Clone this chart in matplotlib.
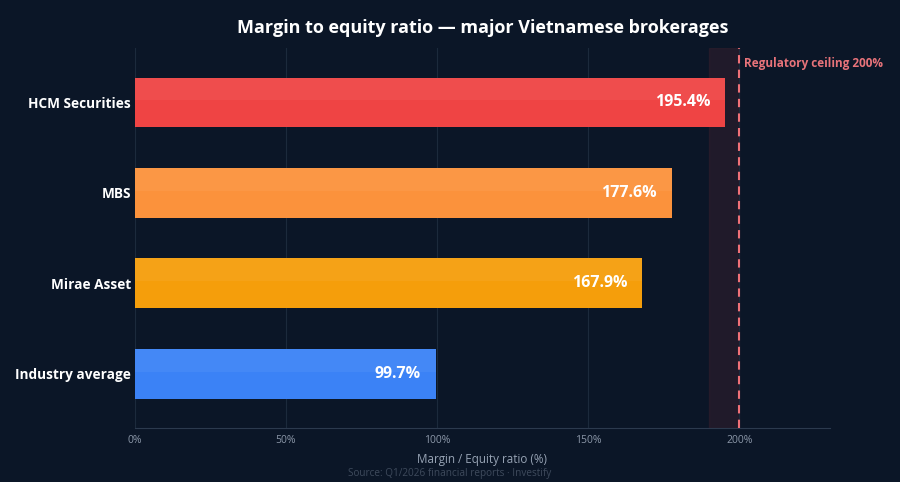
import matplotlib
matplotlib.use("Agg")
import matplotlib.pyplot as plt
import numpy as np

plt.rcParams['font.family'] = ['Open Sans', 'DejaVu Sans']

# data
brokers = ["HCM Securities", "MBS", "Mirae Asset", "Industry average"]
ratios = [195.4, 177.6, 167.9, 99.7]
bar_colors = ["#ef4444", "#fb923c", "#f59e0b", "#3b82f6"]
ceiling = 200
band_start = 190
xticks = [0, 50, 100, 150, 200]

bg = "#0b1627"

fig = plt.figure(figsize=(9, 4.82), dpi=100, facecolor=bg)
ax = fig.add_axes([0.15, 0.112, 0.772, 0.788])
ax.set_facecolor(bg)

ypos = np.arange(len(brokers))[::-1]
h = 0.55

ax.axvspan(band_start, ceiling, color="#3a1f2e", alpha=0.45, zorder=0)

bars = ax.barh(ypos, ratios, height=h, color=bar_colors, zorder=2)
# lighter upper part on each bar
ax.barh(ypos + h * 0.27, ratios, height=h * 0.46, color="white", alpha=0.05, zorder=3)

for y, v in zip(ypos, ratios):
    ax.text(v - 5, y, f"{v:.1f}%", ha="right", va="center", color="white",
            fontsize=11.5, fontweight="bold", zorder=4)

ax.axvline(ceiling, color="#f07178", linestyle=(0, (4, 3)), linewidth=1.5, zorder=4)
ax.text(ceiling + 1.5, 3.43, "Regulatory ceiling 200%", color="#e8737a",
        fontsize=8.5, fontweight="bold", ha="left", va="center")

ax.set_xlim(0, 230)
ax.set_ylim(-0.6, 3.6)
ax.set_xticks(xticks)
ax.set_xticklabels([f"{t}%" for t in xticks])
ax.set_yticks(ypos)
ax.set_yticklabels(brokers)

ax.grid(axis="x", color="#1c2a3c", linewidth=0.8, zorder=0)
ax.set_axisbelow(True)
for s in ["top", "right", "left"]:
    ax.spines[s].set_visible(False)
ax.spines["bottom"].set_color("#2c3a4e")

ax.tick_params(axis="x", colors="#8b97a8", labelsize=7.5, length=0, pad=5)
ax.tick_params(axis="y", colors="white", labelsize=9.8, length=0, pad=3)
for lbl in ax.get_yticklabels():
    lbl.set_fontweight("bold")

ax.set_xlabel("Margin / Equity ratio (%)", color="#97a3b4", fontsize=8.4, labelpad=5)
ax.set_title("Margin to equity ratio \u2014 major Vietnamese brokerages",
             color="white", fontsize=13, fontweight="bold", pad=11)

fig.text(0.5, 0.012, "Source: Q1/2026 financial reports \u00b7 Investify",
         ha="center", color="#3e4a5c", fontsize=7.2)

fig.savefig("out.png", dpi=100, facecolor=bg)
